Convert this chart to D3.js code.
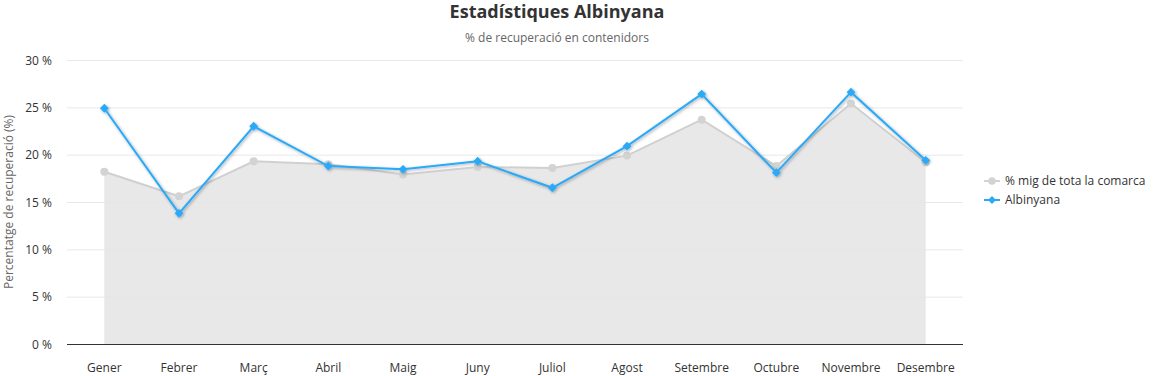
<!DOCTYPE html>
<html lang="ca">
<head>
<meta charset="UTF-8">
<title>Estadístiques Albinyana</title>
<script src="https://cdn.jsdelivr.net/npm/d3@7"></script>
<style>
    body { margin: 0; background: #fff; }
    text { font-family: 'Open Sans', 'Noto Sans', sans-serif; }
    .grid line { stroke: #e6e6e6; }
    .axis text { font-size: 12px; fill: #333; }
</style>
</head>
<body>
<svg id="chart" width="1156" height="376"></svg>
<script>
    const months = ["Gener", "Febrer", "Març", "Abril", "Maig", "Juny", "Juliol", "Agost", "Setembre", "Octubre", "Novembre", "Desembre"];
    const comarca = [18.2, 15.6, 19.3, 19.0, 17.9, 18.7, 18.6, 19.9, 23.7, 18.8, 25.4, 19.2];
    const albinyana = [24.9, 13.8, 23.0, 18.8, 18.45, 19.3, 16.5, 20.9, 26.4, 18.1, 26.6, 19.4];
    const yTicks = [0, 5, 10, 15, 20, 25, 30];

    const svg = d3.select("#chart");
    const m = {left: 67, right: 963, top: 60, bottom: 344};

    const x = d3.scaleBand().domain(months).range([m.left, m.right]);
    const cx = d => x(d) + x.bandwidth() / 2;
    const y = d3.scaleLinear().domain([0, 30]).range([m.bottom, m.top]);

    // shadow for the blue series
    const defs = svg.append("defs");
    defs.append("filter").attr("id", "shadow").attr("x", "-5%").attr("y", "-20%").attr("width", "110%").attr("height", "140%")
        .append("feDropShadow")
        .attr("dx", 1).attr("dy", 1).attr("stdDeviation", 1.5)
        .attr("flood-color", "#000").attr("flood-opacity", 0.35);

    // area of the comarca average
    svg.append("path")
        .datum(comarca)
        .attr("d", d3.area().x((d, i) => cx(months[i])).y0(y(0)).y1(d => y(d)))
        .attr("fill", "#e8e8e8");

    // grid
    svg.append("g").attr("class", "grid")
        .selectAll("line").data(yTicks.filter(t => t > 0)).join("line")
        .attr("x1", m.left).attr("x2", m.right)
        .attr("y1", d => y(d) + 0.5).attr("y2", d => y(d) + 0.5)
        .attr("stroke-opacity", 0.9);

    // y axis
    const yAxis = svg.append("g").attr("class", "axis")
        .attr("transform", `translate(${m.left},0)`)
        .call(d3.axisLeft(y).tickValues(yTicks).tickFormat(d => d + " %").tickSize(0).tickPadding(15));
    yAxis.select(".domain").remove();
    yAxis.selectAll("text").attr("dy", "0.35em");

    // x axis
    const xAxis = svg.append("g").attr("class", "axis")
        .attr("transform", `translate(0,${m.bottom})`)
        .call(d3.axisBottom(x).tickSize(0).tickPadding(19));
    xAxis.select(".domain").attr("stroke", "#333").attr("d", `M${m.left},0.5H${m.right}`);

    // comarca line
    const line = d3.line().x((d, i) => cx(months[i])).y(d => y(d));
    svg.append("path").datum(comarca)
        .attr("d", line).attr("fill", "none")
        .attr("stroke", "#d0d0d0").attr("stroke-width", 2);
    svg.append("g").selectAll("circle").data(comarca).join("circle")
        .attr("cx", (d, i) => cx(months[i])).attr("cy", d => y(d))
        .attr("r", 4).attr("fill", "#d3d3d3");

    // albinyana line
    const blue = svg.append("g").attr("filter", "url(#shadow)");
    blue.append("path").datum(albinyana)
        .attr("d", line).attr("fill", "none")
        .attr("stroke", "#2aa9f8").attr("stroke-width", 2);
    const diamond = d3.symbol().type(d3.symbolDiamond2).size(50);
    blue.selectAll("path.pt").data(albinyana).join("path").attr("class", "pt")
        .attr("d", diamond)
        .attr("transform", (d, i) => `translate(${cx(months[i])},${y(d)})`)
        .attr("fill", "#2aa9f8");

    // titles
    svg.append("text").attr("x", 557).attr("y", 18).attr("text-anchor", "middle")
        .style("font-size", "18px").style("font-weight", "bold").style("fill", "#333")
        .text("Estadístiques Albinyana");
    svg.append("text").attr("x", 557).attr("y", 42).attr("text-anchor", "middle")
        .style("font-size", "12px").style("fill", "#666")
        .text("% de recuperació en contenidors");
    svg.append("text")
        .attr("transform", `translate(13,${(m.top + m.bottom) / 2}) rotate(-90)`)
        .attr("text-anchor", "middle")
        .style("font-size", "12px").style("fill", "#666")
        .text("Percentatge de recuperació (%)");

    // legend
    const legend = [
        {name: "% mig de tota la comarca", color: "#d3d3d3", sym: "circle"},
        {name: "Albinyana", color: "#2aa9f8", sym: "diamond"}
    ];
    const lg = svg.append("g").attr("transform", "translate(984,181)")
        .selectAll("g").data(legend).join("g")
        .attr("transform", (d, i) => `translate(0,${i * 19})`);
    lg.append("line").attr("x1", 0).attr("x2", 16).attr("stroke", d => d.color).attr("stroke-width", 2);
    lg.append("path")
        .attr("d", d => d3.symbol().type(d.sym === "circle" ? d3.symbolCircle : d3.symbolDiamond2).size(d.sym === "circle" ? 45 : 40)())
        .attr("transform", "translate(8,0)")
        .attr("fill", d => d.color);
    lg.append("text").attr("x", 21).attr("dy", "0.35em")
        .style("font-size", "12px").style("fill", "#333")
        .text(d => d.name);
</script>
</body>
</html>
